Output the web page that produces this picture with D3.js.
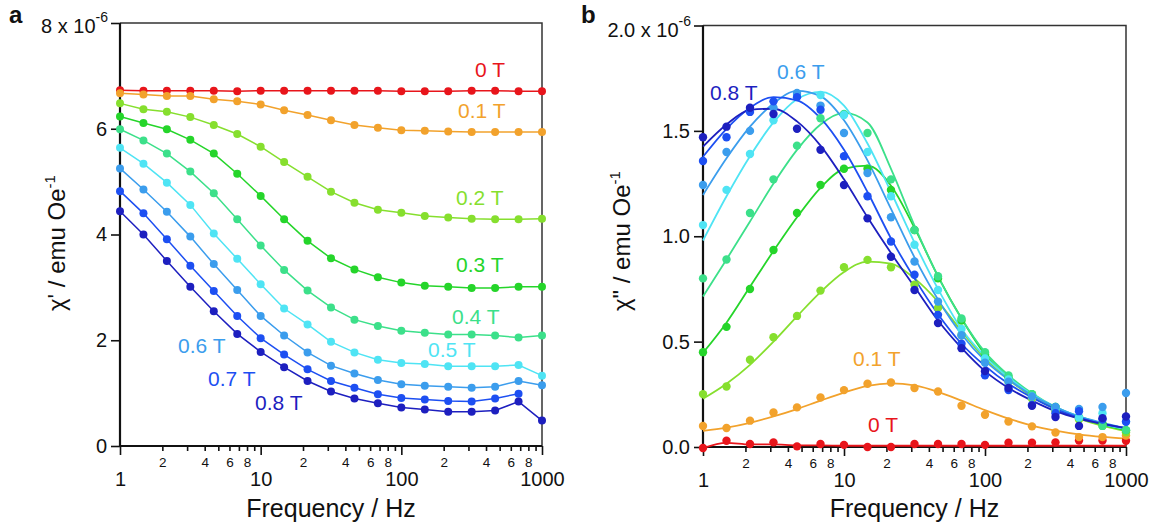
<!DOCTYPE html>
<html>
<head>
<meta charset="utf-8">
<script src="https://cdn.jsdelivr.net/npm/d3@7"></script>
<style>
  body { margin: 0; background: #fff; }
  svg { font-family: "Liberation Sans", Arial, sans-serif; }
</style>
</head>
<body>
<svg width="1158" height="532"></svg>
<script>
// frequencies (Hz), 6 points per decade
var freq = [1, 1.468, 2.154, 3.162, 4.642, 6.813, 10, 14.68, 21.54, 31.62, 46.42, 68.13, 100, 146.8, 215.4, 316.2, 464.2, 681.3, 1000];
var fields = ["0 T", "0.1 T", "0.2 T", "0.3 T", "0.4 T", "0.5 T", "0.6 T", "0.7 T", "0.8 T"];
var colors = ["#e8151b", "#f2a22c", "#86df2e", "#25d52a", "#3ce08a", "#4fe4f4", "#3b9ded", "#1d4ff2", "#1d1fbf"];

// panel a : chi' (x 1e-6 emu/Oe)
var re0  = [6.73, 6.72, 6.72, 6.72, 6.72, 6.71, 6.72, 6.72, 6.72, 6.72, 6.72, 6.72, 6.71, 6.71, 6.71, 6.72, 6.72, 6.71, 6.71];
var re01 = [6.67, 6.65, 6.62, 6.62, 6.56, 6.52, 6.46, 6.35, 6.26, 6.16, 6.07, 6.02, 5.97, 5.96, 5.95, 5.94, 5.94, 5.94, 5.94];
var re02 = [6.48, 6.37, 6.32, 6.22, 6.07, 5.90, 5.66, 5.37, 5.09, 4.81, 4.60, 4.47, 4.41, 4.35, 4.32, 4.30, 4.29, 4.29, 4.30];
var re03 = [6.23, 6.11, 5.99, 5.79, 5.53, 5.15, 4.73, 4.29, 3.88, 3.55, 3.34, 3.19, 3.09, 3.03, 3.01, 2.99, 2.99, 3.01, 3.01];
var re04 = [5.99, 5.78, 5.53, 5.19, 4.78, 4.29, 3.79, 3.33, 2.94, 2.62, 2.39, 2.27, 2.18, 2.14, 2.11, 2.11, 2.09, 2.05, 2.09];
var re05 = [5.64, 5.34, 4.98, 4.56, 4.02, 3.54, 3.06, 2.60, 2.30, 1.97, 1.77, 1.63, 1.57, 1.55, 1.51, 1.51, 1.51, 1.53, 1.33];
var re06 = [5.25, 4.85, 4.43, 3.96, 3.44, 2.95, 2.46, 2.09, 1.77, 1.52, 1.37, 1.25, 1.17, 1.14, 1.12, 1.10, 1.12, 1.23, 1.15];
var re07 = [4.82, 4.40, 3.91, 3.41, 2.93, 2.46, 2.04, 1.73, 1.45, 1.23, 1.10, 0.98, 0.91, 0.88, 0.85, 0.84, 0.90, 0.99, null];
var re08 = [4.44, 4.00, 3.50, 3.01, 2.55, 2.12, 1.78, 1.49, 1.23, 1.03, 0.90, 0.81, 0.73, 0.69, 0.65, 0.65, 0.67, 0.84, 0.48];

// panel b : chi'' points (x 1e-6 emu/Oe)
var im0  = [-0.005, 0.03, 0.014, 0.022, 0.003, 0.014, 0.01, 0.0, 0.0, 0.014, 0.014, 0.014, 0.01, 0.02, 0.02, 0.022, 0.031, 0.031, 0.03];
var im01 = [0.10, 0.09, 0.125, 0.164, 0.188, 0.235, 0.27, 0.30, 0.306, 0.28, 0.263, 0.196, 0.153, 0.121, 0.098, 0.069, 0.047, 0.047, 0.054];
var im02 = [0.251, 0.287, 0.414, 0.521, 0.622, 0.742, 0.853, 0.888, 0.853, 0.77, 0.66, 0.53, 0.41, 0.31, 0.23, 0.17, 0.13, 0.10, 0.07];
var im03 = [0.45, 0.57, 0.75, 0.935, 1.11, 1.243, 1.32, 1.32, 1.22, 1.03, 0.80, 0.60, 0.44, 0.33, 0.25, 0.19, 0.14, 0.11, 0.08];
var im04 = [0.80, 0.89, 1.11, 1.27, 1.43, 1.56, 1.58, 1.49, 1.27, 1.03, 0.81, 0.61, 0.45, 0.34, 0.25, 0.19, 0.14, 0.10, 0.08];
var im05 = [1.053, 1.22, 1.39, 1.55, 1.67, 1.67, 1.575, 1.40, 1.19, 0.96, 0.745, 0.56, 0.42, 0.32, 0.24, 0.18, 0.14, 0.16, 0.12];
var im06 = [1.243, 1.40, 1.50, 1.61, 1.68, 1.62, 1.49, 1.30, 1.09, 0.88, 0.69, 0.53, 0.40, 0.31, 0.24, 0.19, 0.18, 0.19, 0.256];
var im07 = [1.357, 1.47, 1.59, 1.64, 1.66, 1.60, 1.38, 1.19, 0.975, 0.817, 0.627, 0.49, 0.34, 0.27, 0.20, 0.16, 0.17, 0.13, 0.12];
var im08 = [1.47, 1.52, 1.61, 1.58, 1.51, 1.41, 1.243, 1.085, 0.903, 0.745, 0.588, 0.469, 0.36, 0.28, 0.196, 0.142, 0.10, 0.137, 0.145];

// panel b : fitted curves read at the same frequencies
var fit0  = [-0.005, 0.02, 0.012, 0.012, 0.008, 0.008, 0.006, 0.006, 0.006, 0.006, 0.006, 0.006, 0.006, 0.006, 0.006, 0.006, 0.006, 0.006, 0.006];
var fit01 = [0.077, 0.092, 0.115, 0.145, 0.18, 0.22, 0.258, 0.29, 0.302, 0.292, 0.262, 0.22, 0.175, 0.135, 0.102, 0.078, 0.06, 0.048, 0.04];
var fit02 = [0.229, 0.30, 0.39, 0.50, 0.62, 0.735, 0.83, 0.88, 0.87, 0.80, 0.69, 0.55, 0.42, 0.32, 0.24, 0.18, 0.135, 0.10, 0.075];
var fit03 = [0.447, 0.59, 0.76, 0.93, 1.09, 1.23, 1.32, 1.335, 1.24, 1.04, 0.81, 0.61, 0.44, 0.33, 0.25, 0.185, 0.14, 0.105, 0.08];
var fit04 = [0.714, 0.89, 1.07, 1.25, 1.41, 1.53, 1.585, 1.54, 1.32, 1.05, 0.81, 0.61, 0.45, 0.34, 0.255, 0.19, 0.145, 0.11, 0.085];
var fit05 = [0.98, 1.19, 1.38, 1.54, 1.65, 1.685, 1.62, 1.44, 1.21, 0.97, 0.75, 0.56, 0.43, 0.33, 0.25, 0.19, 0.145, 0.11, 0.085];
var fit06 = [1.196, 1.37, 1.52, 1.63, 1.69, 1.665, 1.55, 1.36, 1.13, 0.90, 0.70, 0.535, 0.41, 0.32, 0.245, 0.19, 0.145, 0.115, 0.09];
var fit07 = [1.377, 1.51, 1.61, 1.66, 1.645, 1.56, 1.41, 1.21, 0.99, 0.80, 0.63, 0.49, 0.385, 0.30, 0.235, 0.18, 0.14, 0.11, 0.09];
var fit08 = [1.425, 1.53, 1.60, 1.605, 1.545, 1.43, 1.27, 1.09, 0.92, 0.76, 0.60, 0.47, 0.36, 0.28, 0.22, 0.17, 0.135, 0.11, 0.09];

var reAll = [re0, re01, re02, re03, re04, re05, re06, re07, re08];
var imAll = [im0, im01, im02, im03, im04, im05, im06, im07, im08];
var fitAll = [fit0, fit01, fit02, fit03, fit04, fit05, fit06, fit07, fit08];

// series labels: [field index, x, baseline y]
var labelsA = [[0, 475, 77], [1, 458, 118], [2, 456, 205], [3, 456, 272], [4, 452, 324],
               [5, 428, 357], [6, 178, 353], [7, 208, 386], [8, 255, 410]];
var labelsB = [[8, 710, 100], [6, 777, 79], [1, 853, 366], [0, 868, 432]];

var svg = d3.select('svg');

function toPts(vals) {
  return vals.map(function (v, i) { return {f: freq[i], v: v}; })
             .filter(function (d) { return d.v !== null; });
}

function drawPanel(cfg) {
  var g = svg.append('g');
  var x = d3.scaleLog().domain([1, 1000]).range([cfg.left, cfg.right]);
  var y = d3.scaleLinear().domain([0, cfg.ymax]).range([cfg.bottom, cfg.top]);

  // box (top + right thin)
  g.append('path')
    .attr('d', 'M' + cfg.left + ',' + cfg.top + 'H' + cfg.right + 'V' + cfg.bottom)
    .attr('fill', 'none').attr('stroke', '#333').attr('stroke-width', 1.5);

  // x axis, major + minor ticks
  var minors = [];
  [1, 10, 100].forEach(function (dec) { for (var m = 2; m <= 9; m++) minors.push(m * dec); });

  var xa = g.append('g').attr('transform', 'translate(0,' + cfg.bottom + ')');
  xa.append('g')
    .call(d3.axisBottom(x).tickValues([1, 10, 100, 1000]).tickSize(9).tickPadding(17).tickFormat(d3.format('d')))
    .call(function (s) { s.select('.domain').remove(); s.selectAll('text').attr('font-size', 20); });
  xa.append('g')
    .call(d3.axisBottom(x).tickValues(minors).tickSize(5).tickPadding(6)
      .tickFormat(function (d) {
        var m = Math.round(d / Math.pow(10, Math.floor(Math.log10(d) + 1e-9)));
        return m % 2 === 0 ? m : '';
      }))
    .call(function (s) { s.select('.domain').remove(); s.selectAll('text').attr('font-size', 13.5); });
  xa.selectAll('line').attr('stroke', '#111').attr('stroke-width', 1.6);
  xa.selectAll('text').attr('fill', '#111').attr('font-family', '"Liberation Sans", Arial, sans-serif');

  // y axis
  var ya = g.append('g').attr('transform', 'translate(' + cfg.left + ',0)')
    .call(d3.axisLeft(y).tickValues(cfg.yticks).tickSize(9).tickPadding(4)
      .tickFormat(function (d) { return d === cfg.ymax ? '' : cfg.fmt(d); }))
    .call(function (s) { s.select('.domain').remove(); });
  ya.selectAll('line').attr('stroke', '#111').attr('stroke-width', 1.6);
  ya.selectAll('text').attr('font-size', 20).attr('fill', '#111').attr('font-family', '"Liberation Sans", Arial, sans-serif');

  // top tick label with exponent
  var tt = g.append('text')
    .attr('x', cfg.left - 12).attr('y', y(cfg.ymax) + cfg.topDy)
    .attr('text-anchor', 'end').attr('font-size', 20).attr('fill', '#111');
  tt.append('tspan').text(cfg.fmt(cfg.ymax) + ' x 10');
  tt.append('tspan').attr('dy', -11).attr('font-size', 14).text('-6');

  // main axis lines
  g.append('path')
    .attr('d', 'M' + cfg.left + ',' + cfg.top + 'V' + cfg.bottom + 'H' + cfg.right)
    .attr('fill', 'none').attr('stroke', '#111').attr('stroke-width', 2.2);

  // titles
  g.append('text')
    .attr('x', (cfg.left + cfg.right) / 2).attr('y', 517)
    .attr('text-anchor', 'middle').attr('font-size', 25).attr('fill', '#111')
    .text('Frequency / Hz');
  var yt = g.append('text')
    .attr('transform', 'translate(' + cfg.ytX + ',311) rotate(-90)')
    .attr('font-size', 24).attr('fill', '#111');
  yt.append('tspan').text(cfg.ytitle + ' / emu Oe');
  yt.append('tspan').attr('dy', -10).attr('font-size', 15).text('-1');

  g.append('text')
    .attr('x', cfg.tagX).attr('y', 23)
    .attr('font-size', 24).attr('font-weight', 'bold').attr('fill', '#111')
    .text(cfg.tag);

  return {g: g, x: x, y: y};
}

// ---- panel a ----
var pa = drawPanel({
  left: 120, right: 542, top: 23, bottom: 446, ymax: 8,
  yticks: [0, 2, 4, 6, 8], fmt: d3.format('d'), topDy: 10,
  ytitle: "\u03c7'", ytX: 65, tag: 'a', tagX: 9
});

var lineA = d3.line()
  .x(function (d) { return pa.x(d.f); })
  .y(function (d) { return pa.y(d.v); });

reAll.forEach(function (vals, i) {
  var pts = toPts(vals);
  pa.g.append('path').datum(pts)
    .attr('d', lineA).attr('fill', 'none')
    .attr('stroke', colors[i]).attr('stroke-width', 1.5);
  pa.g.selectAll(null).data(pts).enter().append('circle')
    .attr('cx', function (d) { return pa.x(d.f); })
    .attr('cy', function (d) { return pa.y(d.v); })
    .attr('r', 4).attr('fill', colors[i]);
});

labelsA.forEach(function (l) {
  pa.g.append('text').attr('x', l[1]).attr('y', l[2])
    .attr('font-size', 21).attr('fill', colors[l[0]]).text(fields[l[0]]);
});

// ---- panel b ----
var pb = drawPanel({
  left: 703, right: 1126, top: 25.5, bottom: 447, ymax: 2,
  yticks: [0, 0.5, 1, 1.5, 2], fmt: d3.format('.1f'), topDy: 11,
  ytitle: '\u03c7"', ytX: 630, tag: 'b', tagX: 581
});

var lineB = d3.line()
  .x(function (d) { return pb.x(d.f); })
  .y(function (d) { return pb.y(d.v); })
  .curve(d3.curveMonotoneX);

fitAll.forEach(function (vals, i) {
  pb.g.append('path').datum(toPts(vals))
    .attr('d', lineB).attr('fill', 'none')
    .attr('stroke', colors[i]).attr('stroke-width', 1.8);
});
imAll.forEach(function (vals, i) {
  pb.g.selectAll(null).data(toPts(vals)).enter().append('circle')
    .attr('cx', function (d) { return pb.x(d.f); })
    .attr('cy', function (d) { return pb.y(d.v); })
    .attr('r', 4.2).attr('fill', colors[i]);
});

labelsB.forEach(function (l) {
  pb.g.append('text').attr('x', l[1]).attr('y', l[2])
    .attr('font-size', 21).attr('fill', colors[l[0]]).text(fields[l[0]]);
});
</script>
</body>
</html>
